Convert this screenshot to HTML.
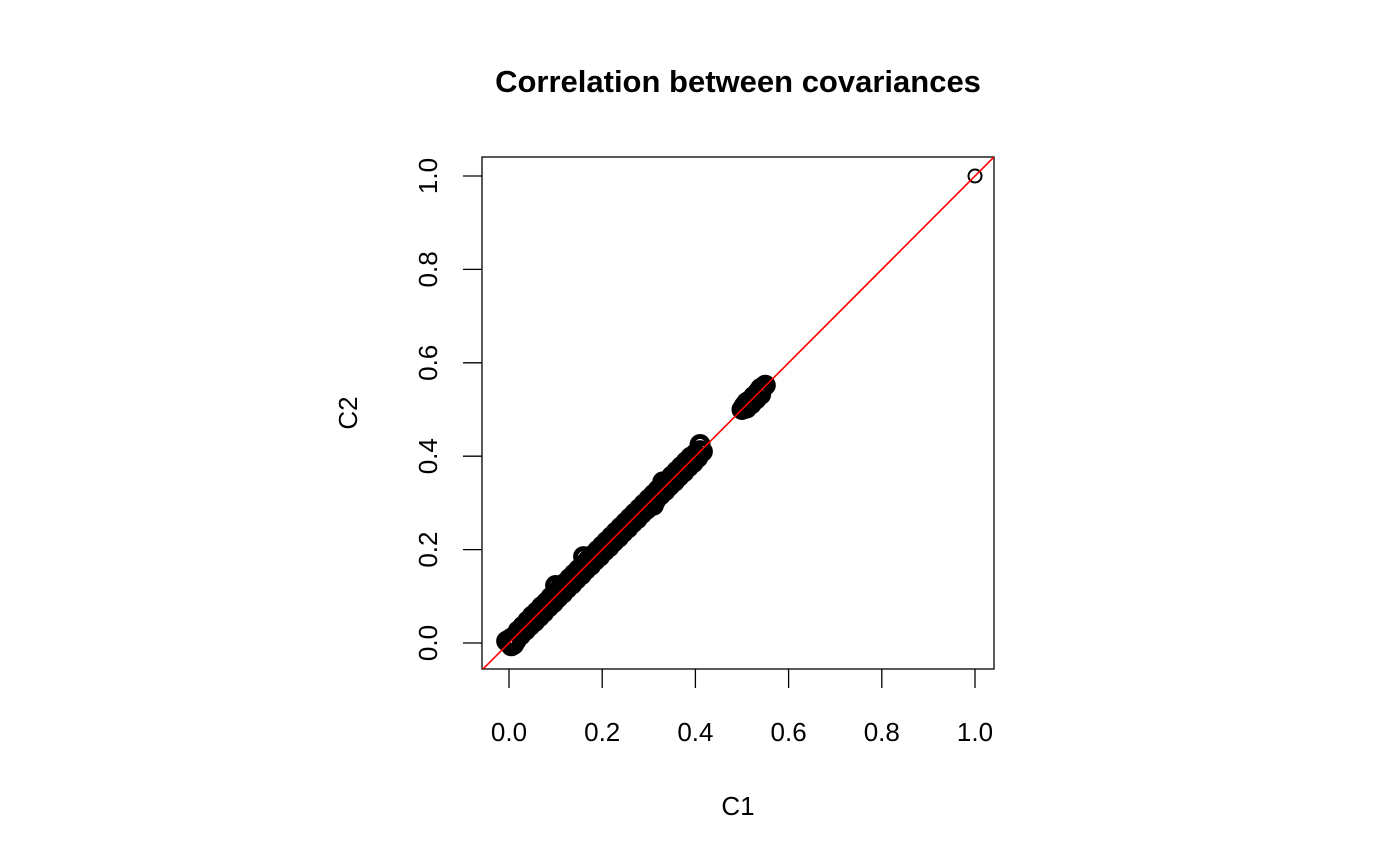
<!DOCTYPE html>
<html><head><meta charset="utf-8"><style>
html,body{margin:0;padding:0;background:#fff;}
svg{display:block;font-family:"Liberation Sans",Arial,sans-serif;}
</style></head><body>
<svg id="chart" width="1400" height="866" viewBox="0 0 1400 866">
<text x="738" y="92" text-anchor="middle" font-size="31" font-weight="bold">Correlation between covariances</text>
<rect x="482" y="157" width="512" height="512" fill="none" stroke="#000" stroke-width="1.3"/>
<g id="xaxis"></g>
<g id="yaxis"></g>
<text x="738" y="815" text-anchor="middle" font-size="26">C1</text>
<text transform="translate(357,413) rotate(-90)" text-anchor="middle" font-size="26">C2</text>
<defs><clipPath id="clip"><rect x="482" y="157" width="512" height="512"/></clipPath></defs>
<g id="points"></g>
<line id="refline" stroke="#ff0000" stroke-width="1.6" clip-path="url(#clip)"/>
</svg>
<script>
const xTicks = [0, 0.2, 0.4, 0.6, 0.8, 1.0];
const yTicks = [0, 0.2, 0.4, 0.6, 0.8, 1.0];
const tickLabels = ["0.0","0.2","0.4","0.6","0.8","1.0"];
const c1 = [0,0.005,-0.005,0.01,0.002,0.008,0.015,0.02,0.025,0.03,0.035,0.04,0.045,0.05,0.055,0.06,0.065,0.07,0.075,0.08,0.085,0.09,0.095,0.1,0.105,0.11,0.115,0.12,0.125,0.13,0.135,0.14,0.145,0.15,0.155,0.16,0.165,0.17,0.175,0.18,0.185,0.19,0.195,0.2,0.205,0.21,0.215,0.22,0.225,0.23,0.235,0.24,0.245,0.25,0.255,0.26,0.265,0.27,0.275,0.28,0.285,0.29,0.295,0.3,0.305,0.31,0.315,0.32,0.325,0.33,0.335,0.34,0.345,0.35,0.355,0.36,0.365,0.37,0.375,0.38,0.385,0.39,0.395,0.4,0.405,0.41,0.415,0.41,0.33,0.1,0.16,0.31,
0.5,0.505,0.51,0.515,0.52,0.525,0.53,0.535,0.54,0.545,0.55,0.51,0.53,0.54,1.0];
const c2 = [0.002,-0.006,0.004,-0.003,0.008,0.012,0.005,0.026,0.017,0.036,0.027,0.047,0.037,0.058,0.046,0.067,0.056,0.078,0.066,0.087,0.077,0.098,0.086,0.108,0.097,0.118,0.106,0.128,0.117,0.138,0.126,0.148,0.137,0.158,0.146,0.168,0.157,0.178,0.166,0.188,0.177,0.198,0.186,0.208,0.197,0.218,0.206,0.228,0.217,0.238,0.226,0.248,0.237,0.258,0.246,0.268,0.257,0.278,0.266,0.288,0.277,0.298,0.286,0.308,0.297,0.318,0.306,0.328,0.317,0.338,0.326,0.348,0.337,0.358,0.346,0.368,0.357,0.378,0.366,0.388,0.377,0.398,0.386,0.405,0.397,0.412,0.41,0.425,0.345,0.123,0.185,0.295,
0.5,0.508,0.503,0.518,0.512,0.528,0.522,0.538,0.532,0.548,0.552,0.515,0.524,0.545,1.0];
const ns="http://www.w3.org/2000/svg";
const X = v => 509 + v*466;
const Y = v => 643 - v*467;
const xa=document.getElementById('xaxis'), ya=document.getElementById('yaxis');
xTicks.forEach((t,i)=>{
  const l=document.createElementNS(ns,'line');
  
  
  l.setAttribute('x1',X(t));l.setAttribute('x2',X(t));l.setAttribute('y1',669);l.setAttribute('y2',688);l.setAttribute('stroke','#000');l.setAttribute('stroke-width','1.3');
  xa.appendChild(l);
  const tx=document.createElementNS(ns,'text');
  
  
  tx.setAttribute('x',X(t));tx.setAttribute('y',741);tx.setAttribute('text-anchor','middle');tx.setAttribute('font-size','26');
  tx.textContent=tickLabels[i];xa.appendChild(tx);
});
yTicks.forEach((t,i)=>{
  const l=document.createElementNS(ns,'line');
  
  
  l.setAttribute('x1',463);l.setAttribute('x2',482);l.setAttribute('y1',Y(t));l.setAttribute('y2',Y(t));l.setAttribute('stroke','#000');l.setAttribute('stroke-width','1.3');
  ya.appendChild(l);
  const tx=document.createElementNS(ns,'text');
  
  
  tx.setAttribute('transform','translate(437,'+Y(t)+') rotate(-90)');tx.setAttribute('text-anchor','middle');tx.setAttribute('font-size','26');
  tx.textContent=tickLabels[i];ya.appendChild(tx);
});
const pg=document.getElementById('points');
c1.forEach((v,i)=>{
  const c=document.createElementNS(ns,'circle');
  
  
  const iso = v > 0.9;
  c.setAttribute('cx',X(v));c.setAttribute('cy',Y(c2[i]));c.setAttribute('r',iso?6.5:8);
  c.setAttribute('fill','none');c.setAttribute('stroke','#000');c.setAttribute('stroke-width',iso?'2':'5');
  pg.appendChild(c);
});
const rl=document.getElementById('refline');
rl.setAttribute('x1',X(-0.2));rl.setAttribute('y1',Y(-0.2));rl.setAttribute('x2',X(1.2));rl.setAttribute('y2',Y(1.2));
</script>
</body></html>
